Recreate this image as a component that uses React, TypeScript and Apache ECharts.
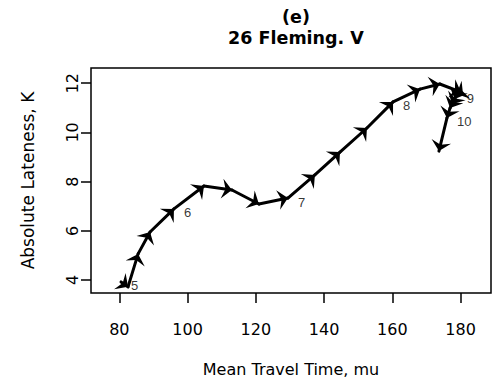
import React, { useEffect, useRef } from "react";
import * as echarts from "echarts";

// Trajectory (every quarter hour)
const pathX = [80.5, 82.55, 85.5, 89.0, 96.0, 104.8, 113.0, 120.9, 129.4, 137.3, 144.65, 152.55, 160.2, 168.1, 173.9, 180.1, 178.9, 178.3, 177.45, 176.9, 176.0, 173.65];
const pathY = [3.92, 3.72, 5.06, 5.95, 6.89, 7.82, 7.66, 7.09, 7.33, 8.27, 9.2, 10.18, 11.24, 11.76, 11.97, 11.64, 11.56, 11.36, 11.15, 10.99, 10.59, 9.24];
// hour labels and the index of the point they mark
const hourLabels = ["5", "6", "7", "8", "9", "10"];
const hourIndex = [0, 4, 8, 12, 16, 20];
const xTicks = [80, 100, 120, 140, 160, 180];
const yTicks = [4, 6, 8, 10, 12];

const titleText = "(e)\n26 Fleming. V";
const xName = "Mean Travel Time, mu";
const yName = "Absolute Lateness, K";

const arrowHead = "path://M0,-10 L0.01,-10 L0,-10 Z M0,0 L5.5,10 L0,6.5 L-5.5,10 Z";

export default function App() {
  const ref = useRef<HTMLDivElement>(null);
  useEffect(() => {
    if (!ref.current) return;
    const chart = echarts.init(ref.current, null, { renderer: "svg" });
    const segments = [];
    for (let i = 0; i < pathX.length - 1; i++) {
      segments.push({ coords: [[pathX[i], pathY[i]], [pathX[i + 1], pathY[i + 1]]] });
    }
    const labelData = hourLabels.map((t, k) => [pathX[hourIndex[k]], pathY[hourIndex[k]], t]);
    const font = "DejaVu Sans";
    chart.setOption({
      animation: false,
      backgroundColor: "#fff",
      title: {
        text: titleText,
        left: 291,
        top: 2,
        textAlign: "center",
        textStyle: { fontFamily: font, fontWeight: "bold", fontSize: 17.5, lineHeight: 20.5, color: "#000" },
      },
      grid: {
        left: 91,
        right: 13,
        top: 68,
        bottom: 90,
        show: true,
        borderColor: "#000",
        borderWidth: 1.5,
        backgroundColor: "transparent",
      },
      xAxis: {
        type: "value",
        min: 71.7,
        max: 188.9,
        axisLine: { show: false },
        splitLine: { show: false },
        axisTick: { show: true, customValues: xTicks, length: 10, lineStyle: { color: "#000", width: 1.5 } },
        axisLabel: { customValues: xTicks, margin: 28, fontFamily: font, fontSize: 16, color: "#000" },
        name: xName,
        nameLocation: "middle",
        nameGap: 68,
        nameTextStyle: { fontFamily: font, fontSize: 16, color: "#000" },
      },
      yAxis: {
        type: "value",
        min: 3.47,
        max: 12.62,
        axisLine: { show: false },
        splitLine: { show: false },
        axisTick: { show: true, customValues: yTicks, length: 10, lineStyle: { color: "#000", width: 1.5 } },
        axisLabel: { customValues: yTicks, rotate: 90, margin: 11, fontFamily: font, fontSize: 16, color: "#000" },
        name: yName,
        nameLocation: "middle",
        nameRotate: 90,
        nameGap: 55,
        nameTextStyle: { fontFamily: font, fontSize: 17, color: "#000" },
      },
      series: [
        {
          type: "lines",
          coordinateSystem: "cartesian2d",
          polyline: false,
          symbol: ["none", arrowHead],
          symbolSize: [11, 20],
          lineStyle: { color: "#000", width: 3, cap: "round", opacity: 1 },
          data: segments,
          silent: true,
        },
        {
          type: "scatter",
          symbolSize: 0,
          itemStyle: { color: "#000" },
          data: labelData,
          label: {
            show: true,
            position: "right",
            distance: 10,
            offset: [0, 4],
            formatter: (p: any) => p.value[2],
            fontFamily: "Liberation Sans",
            fontSize: 13,
            color: "#000",
          },
          silent: true,
        },
      ],
    });
    return () => chart.dispose();
  }, []);
  return <div ref={ref} style={{ width: 504, height: 383, position: "absolute", left: 0, top: 0 }} />;
}
